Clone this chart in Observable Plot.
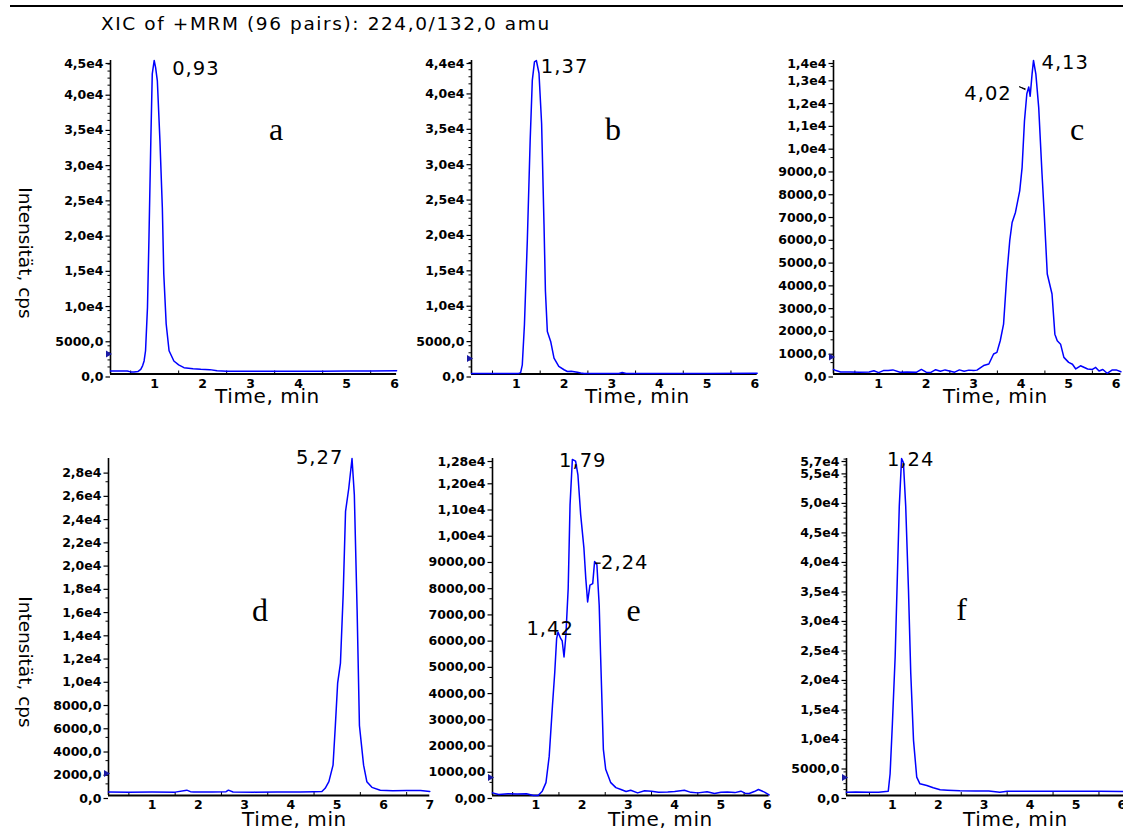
<!DOCTYPE html>
<html>
<head>
<meta charset="utf-8">
<script src="https://cdn.jsdelivr.net/npm/d3@7"></script>
<script src="https://cdn.jsdelivr.net/npm/@observablehq/plot@0.6"></script>
<style>
  html, body { margin: 0; padding: 0; background: #fff; }
  #root { position: relative; width: 1123px; height: 830px; overflow: hidden; background: #fff; font-family: "DejaVu Sans", sans-serif; }
  #root svg.panel { position: absolute; background: transparent !important; overflow: visible; max-width: none !important; }
  #root svg.panel g[aria-label="text"] text { letter-spacing: 1px; }
  #overlay { position: absolute; left: 0; top: 0; pointer-events: none; }
</style>
</head>
<body>
<div id="root"></div>
<script>
// ---------------- DATA ----------------
const chartTitle = "XIC of +MRM (96 pairs): 224,0/132,0 amu";
const xAxisTitle = "Time, min";
const yAxisTitle = "Intensität, cps";
const panelLetters = ["a", "b", "c", "d", "e", "f"];

// Panel a
const timeA = [0.08,0.3,0.43,0.5,0.57,0.65,0.71,0.75,0.78,0.81,0.85,0.88,0.92,0.95,0.99,1.02,1.056,1.11,1.16,1.19,1.24,1.3,1.4,1.5,1.61,1.8,1.96,2.15,2.3,2.5,3.0,3.5,4.0,4.5,5.0,5.5,6.04];
const intA  = [420,420,420,300,280,350,660,1200,1850,3300,9400,18900,33100,42600,44500,43500,41600,33100,23600,14200,7100,3300,1850,1300,900,750,660,620,450,400,380,400,380,400,420,430,470];
const yTicksA  = [0,5000,10000,15000,20000,25000,30000,35000,40000,44500];
const yLabelsA = ["0,0","5000,0","1,0e4","1,5e4","2,0e4","2,5e4","3,0e4","3,5e4","4,0e4","4,5e4"];
const xTicksA  = [1,2,3,4,5,6];
const peakTimeA = [0.99], peakIntA = [44500], peakLabelA = ["0,93"];
const thresholdA = 2840;

// Panel b
const timeB = [0.06,0.5,0.9,1.05,1.09,1.125,1.17,1.23,1.29,1.335,1.38,1.42,1.475,1.53,1.58,1.61,1.65,1.72,1.79,1.89,2.0,2.07,2.15,2.28,2.35,2.42,2.8,3.15,3.22,3.3,4.0,5.0,6.05];
const intB  = [80,80,60,80,200,1300,7000,18800,33000,41500,44100,44300,42500,35400,21200,11700,6000,4600,2250,1070,600,350,380,260,150,60,60,80,220,80,60,70,90];
const yTicksB  = [0,5000,10000,15000,20000,25000,30000,35000,40000,44300];
const yLabelsB = ["0,0","5000,0","1,0e4","1,5e4","2,0e4","2,5e4","3,0e4","3,5e4","4,0e4","4,4e4"];
const xTicksB  = [1,2,3,4,5,6];
const peakTimeB = [1.42], peakIntB = [44300], peakLabelB = ["1,37"];
const thresholdB = 2200;

// Panel c
const timeC = [0.05,0.1,0.2,0.4,0.6,0.8,0.9,1.0,1.1,1.2,1.3,1.45,1.6,1.8,1.9,2.0,2.1,2.2,2.3,2.4,2.6,2.7,2.8,2.9,3.0,3.07,3.21,3.32,3.42,3.49,3.56,3.63,3.7,3.76,3.81,3.88,3.97,4.02,4.07,4.12,4.16,4.19,4.23,4.26,4.31,4.37,4.44,4.49,4.55,4.65,4.71,4.76,4.83,4.9,5.0,5.08,5.15,5.25,5.4,5.5,5.57,5.64,5.72,5.81,5.92,6.0,6.1];
const intC  = [200,150,90,90,80,90,140,60,150,150,180,80,90,80,200,80,70,190,120,180,80,180,120,170,150,170,370,440,880,950,1460,2190,4390,5850,6650,7090,8040,9060,11110,12300,12600,12190,13160,13760,13160,11690,8770,6870,4390,3510,1750,1460,1310,730,510,430,220,360,220,200,290,130,200,30,180,180,100];
const yTicksC  = [0,1000,2000,3000,4000,5000,6000,7000,8000,9000,10000,11000,12000,13000,13760];
const yLabelsC = ["0,0","1000,0","2000,0","3000,0","4000,0","5000,0","6000,0","7000,0","8000,0","9000,0","1,0e4","1,1e4","1,2e4","1,3e4","1,4e4"];
const xTicksC  = [1,2,3,4,5,6];
const peakTimeC = [4.26, 4.16], peakIntC = [13760, 12600], peakLabelC = ["4,13", "4,02"];
const thresholdC = 745;

// Panel d
const timeD = [0.06,0.5,1.0,1.5,1.75,1.83,1.9,2.3,2.6,2.65,2.75,3.2,3.7,4.2,4.5,4.67,4.74,4.82,4.91,4.96,5.01,5.07,5.13,5.18,5.25,5.32,5.37,5.43,5.48,5.57,5.64,5.75,5.93,6.2,6.5,6.8,7.0];
const intD  = [300,270,300,290,460,330,300,300,330,460,300,290,300,300,320,340,620,1190,2610,6020,9700,11400,17400,24450,26440,29000,25870,15940,6020,2610,1190,700,450,400,420,420,350];
const yTicksD  = [0,2000,4000,6000,8000,10000,12000,14000,16000,18000,20000,22000,24000,26000,28000];
const yLabelsD = ["0,0","2000,0","4000,0","6000,0","8000,0","1,0e4","1,2e4","1,4e4","1,6e4","1,8e4","2,0e4","2,2e4","2,4e4","2,6e4","2,8e4"];
const yMaxD = 29000;
const xTicksD  = [1,2,3,4,5,6,7];
const peakTimeD = [5.32], peakIntD = [29000], peakLabelD = ["5,27"];
const thresholdD = 1890;

// Panel e
const timeE = [0.065,0.2,0.4,0.6,0.8,0.95,1.05,1.14,1.22,1.29,1.36,1.41,1.45,1.48,1.54,1.57,1.61,1.65,1.70,1.74,1.79,1.86,1.91,1.97,2.04,2.08,2.12,2.17,2.23,2.27,2.32,2.37,2.40,2.46,2.51,2.62,2.73,2.84,2.95,3.05,3.2,3.35,3.5,3.65,3.85,4.0,4.21,4.35,4.5,4.7,4.86,5.0,5.14,5.3,5.43,5.52,5.61,5.72,5.81,5.94,6.04];
const intE  = [100,40,70,60,70,0,0,165,490,1500,3420,4700,5980,6230,5980,5900,5280,6100,7890,11080,12810,12750,12230,10700,9430,8280,7380,8020,8080,8920,8800,7250,5340,1760,1000,490,300,230,150,200,100,180,165,120,130,150,200,120,100,140,75,120,130,110,165,90,75,150,230,130,20];
const yTicksE  = [0,1000,2000,3000,4000,5000,6000,7000,8000,9000,10000,11000,12000,12850];
const yLabelsE = ["0,00","1000,00","2000,00","3000,00","4000,00","5000,00","6000,00","7000,00","8000,00","9000,00","1,00e4","1,10e4","1,20e4","1,28e4"];
const xTicksE  = [1,2,3,4,5,6];
const peakTimeE = [1.79, 1.48, 2.27], peakIntE = [12810, 6230, 8920], peakLabelE = ["1,79", "1,42", "2,24"];
const thresholdE = 690;

// Panel f
const timeF = [0.0,0.2,0.5,0.7,0.91,0.95,1.0,1.06,1.11,1.15,1.2,1.24,1.29,1.35,1.40,1.46,1.53,1.60,1.75,1.89,2.04,2.2,2.47,2.8,3.1,3.34,3.5,3.92,4.5,5.0,5.5,6.05];
const intF  = [570,600,560,570,740,3690,12190,23520,37700,49030,57100,56400,49000,34900,20700,9350,3110,1980,1700,1300,970,900,800,750,750,570,700,740,700,720,700,680];
const yTicksF  = [0,5000,10000,15000,20000,25000,30000,35000,40000,45000,50000,55000,57100];
const yLabelsF = ["0,0","5000,0","1,0e4","1,5e4","2,0e4","2,5e4","3,0e4","3,5e4","4,0e4","4,5e4","5,0e4","5,5e4","5,7e4"];
const xTicksF  = [1,2,3,4,5,6];
const peakTimeF = [1.2], peakIntF = [57100], peakLabelF = ["1,24"];
const thresholdF = 3050;

// ---------------- LAYOUT (page pixels, styles) ----------------
const SANS = "DejaVu Sans, sans-serif";
const panels = [
  { t: timeA, v: intA, yTicks: yTicksA, yLabels: yLabelsA, yMax: yTicksA[yTicksA.length-1], xTicks: xTicksA,
    pT: peakTimeA, pV: peakIntA, pL: peakLabelA, thr: thresholdA, xDomain: [0.08, 6.04], minor: 1000,
    box: {left: 110, top: 59.5, w: 286.1, h: 313.5},
    peakStyle: [{anchor: "start", dx: 18, dy: 8.5}],
    timeX: 267.5, timeY: 403, letterX: 276, letterY: 140, yTitle: {x: 19, y: 253} },
  { t: timeB, v: intB, yTicks: yTicksB, yLabels: yLabelsB, yMax: yTicksB[yTicksB.length-1], xTicks: xTicksB,
    pT: peakTimeB, pV: peakIntB, pL: peakLabelB, thr: thresholdB, xDomain: [0.06, 6.05], minor: 1000,
    box: {left: 470.7, top: 59.5, w: 285.7, h: 313.5},
    peakStyle: [{anchor: "start", dx: 4.5, dy: 6.5}],
    timeX: 637.5, timeY: 403, letterX: 613, letterY: 140 },
  { t: timeC, v: intC, yTicks: yTicksC, yLabels: yLabelsC, yMax: yTicksC[yTicksC.length-1], xTicks: xTicksC,
    pT: peakTimeC, pV: peakIntC, pL: peakLabelC, thr: thresholdC, xDomain: [0.05, 6.1], minor: 500,
    box: {left: 833.2, top: 59.5, w: 287.4, h: 313.5},
    peakStyle: [{anchor: "start", dx: 8, dy: 2}, {anchor: "end", dx: -17, dy: 7.3, leader: {dx: -3.6, dy: 2.3, rotate: -66.6, length: 6.5}}],
    timeX: 995.5, timeY: 403, letterX: 1077, letterY: 140 },
  { t: timeD, v: intD, yTicks: yTicksD, yLabels: yLabelsD, yMax: yMaxD, xTicks: xTicksD,
    pT: peakTimeD, pV: peakIntD, pL: peakLabelD, thr: thresholdD, xDomain: [0.06, 7.0], minor: 1000,
    box: {left: 108.2, top: 458, w: 321.3, h: 337},
    peakStyle: [{anchor: "end", dx: -8.7, dy: -1}],
    timeX: 294.5, timeY: 826, letterX: 260, letterY: 621, yTitle: {x: 19, y: 662} },
  { t: timeE, v: intE, yTicks: yTicksE, yLabels: yLabelsE, yMax: yTicksE[yTicksE.length-1], xTicks: xTicksE,
    pT: peakTimeE, pV: peakIntE, pL: peakLabelE, thr: thresholdE, xDomain: [0.065, 6.04], minor: 500,
    box: {left: 491.7, top: 458, w: 276.6, h: 337},
    peakStyle: [{anchor: "middle", dx: 10.4, dy: 1.7}, {anchor: "end", dx: 15.8, dy: -3.6},
                {anchor: "start", dx: 6.5, dy: 1.6, leader: {dx: 1, dy: 1.6, rotate: 90, length: 5}}],
    timeX: 660.5, timeY: 826, letterX: 633.7, letterY: 621 },
  { t: timeF, v: intF, yTicks: yTicksF, yLabels: yLabelsF, yMax: yTicksF[yTicksF.length-1], xTicks: xTicksF,
    pT: peakTimeF, pV: peakIntF, pL: peakLabelF, thr: thresholdF, xDomain: [0.0, 6.05], minor: 1000,
    box: {left: 846.4, top: 458, w: 277.7, h: 337},
    peakStyle: [{anchor: "middle", dx: 9, dy: 1}],
    timeX: 1015.5, timeY: 826, letterX: 961.5, letterY: 620 }
];

const root = document.getElementById("root");
const mL = 75, mT = 22;

panels.forEach((p) => {
  const b = p.box;
  const width = Math.ceil(mL + b.w + 8);
  const mR = width - mL - b.w;
  const height = Math.ceil(mT + b.h + 40);
  const mB = height - mT - b.h;

  const data = p.t.map((t, i) => ({t, v: p.v[i]}));
  const labelMap = new Map(p.yTicks.map((d, i) => [d, p.yLabels[i]]));
  const minors = d3.range(p.minor, p.yMax, p.minor).filter(d => !p.yTicks.some(t => Math.abs(t - d) < 1e-6));
  const xMinor = d3.range(0.5, p.xDomain[1], 1).filter(d => d > p.xDomain[0]);
  const peaks = p.pT.map((t, i) => ({t, v: p.pV[i], label: p.pL[i]}));

  const marks = [
    Plot.ruleX(xMinor, {x: d => d, insetTop: b.h - 3, stroke: "black", strokeWidth: 1}),
    Plot.axisY({ticks: minors, tickFormat: () => "", tickSize: 2.5, label: null, strokeWidth: 1}),
    Plot.axisY({ticks: p.yTicks, tickFormat: d => labelMap.get(d), tickSize: 4.5, tickPadding: 2.5,
                fontSize: 12.5, fontWeight: "bold", fontFamily: SANS, dy: 3, label: null, strokeWidth: 1.2}),
    Plot.axisX({ticks: p.xTicks, tickFormat: d => String(d), tickSize: 0, tickPadding: 5,
                fontSize: 12.5, fontWeight: "bold", fontFamily: SANS, label: null}),
    Plot.ruleX([p.xDomain[0]], {stroke: "black", strokeWidth: 1.6}),
    Plot.ruleY([0], {stroke: "black", strokeWidth: 2}),
    Plot.line(data, {x: "t", y: "v", stroke: "#0000ff", strokeWidth: 1.5}),
    Plot.dot([p.thr], {x: () => p.xDomain[0], y: d => d, symbol: "triangle", r: 2.6, rotate: 90,
                       fill: "#1a1aa6", stroke: "none", dx: -2.5})
  ];
  peaks.forEach((pk, i) => {
    const s = p.peakStyle[i];
    marks.push(Plot.text([pk], {x: "t", y: "v", text: "label", textAnchor: s.anchor, dx: s.dx, dy: s.dy,
                                 fontSize: 19.5, fontFamily: SANS, fill: "black"}));
    if (s.leader) {
      marks.push(Plot.vector([pk], {x: "t", y: "v", dx: s.leader.dx, dy: s.leader.dy, rotate: s.leader.rotate,
                                    length: s.leader.length, anchor: "start", shape: "spike", r: 0.4,
                                    stroke: "black", fill: "black", strokeWidth: 0.8}));
    }
  });

  const svg = Plot.plot({
    width, height,
    marginLeft: mL, marginRight: mR, marginTop: mT, marginBottom: mB,
    x: {domain: p.xDomain},
    y: {domain: [0, p.yMax]},
    clip: false,
    style: {background: "transparent", overflow: "visible", fontFamily: SANS, color: "black"},
    marks
  });
  svg.classList.add("panel");
  svg.style.left = (b.left - mL) + "px";
  svg.style.top = (b.top - mT) + "px";
  root.appendChild(svg);
});

// ---------------- Overlay texts ----------------
const ov = d3.select(root).append("svg").attr("id", "overlay").attr("width", 1123).attr("height", 830);
ov.append("line").attr("x1", 10).attr("x2", 1123).attr("y1", 6).attr("y2", 6)
  .attr("stroke", "black").attr("stroke-width", 2);
ov.append("text").attr("x", 101).attr("y", 30).text(chartTitle)
  .attr("font-family", SANS).attr("font-size", 18.5).attr("letter-spacing", "1.6px").attr("fill", "black");

panels.forEach((p, i) => {
  ov.append("text").attr("x", p.timeX).attr("y", p.timeY).attr("text-anchor", "middle")
    .attr("font-family", SANS).attr("font-size", 20).attr("letter-spacing", "0.6px").text(xAxisTitle);
  ov.append("text").attr("x", p.letterX).attr("y", p.letterY).attr("text-anchor", "middle")
    .attr("font-family", "Liberation Serif, Times New Roman, serif").attr("font-size", 32).text(panelLetters[i]);
  if (p.yTitle) {
    ov.append("text").attr("transform", `translate(${p.yTitle.x},${p.yTitle.y}) rotate(90)`)
      .attr("text-anchor", "middle").attr("font-family", SANS).attr("font-size", 18.5).text(yAxisTitle);
  }
});
</script>
</body>
</html>
